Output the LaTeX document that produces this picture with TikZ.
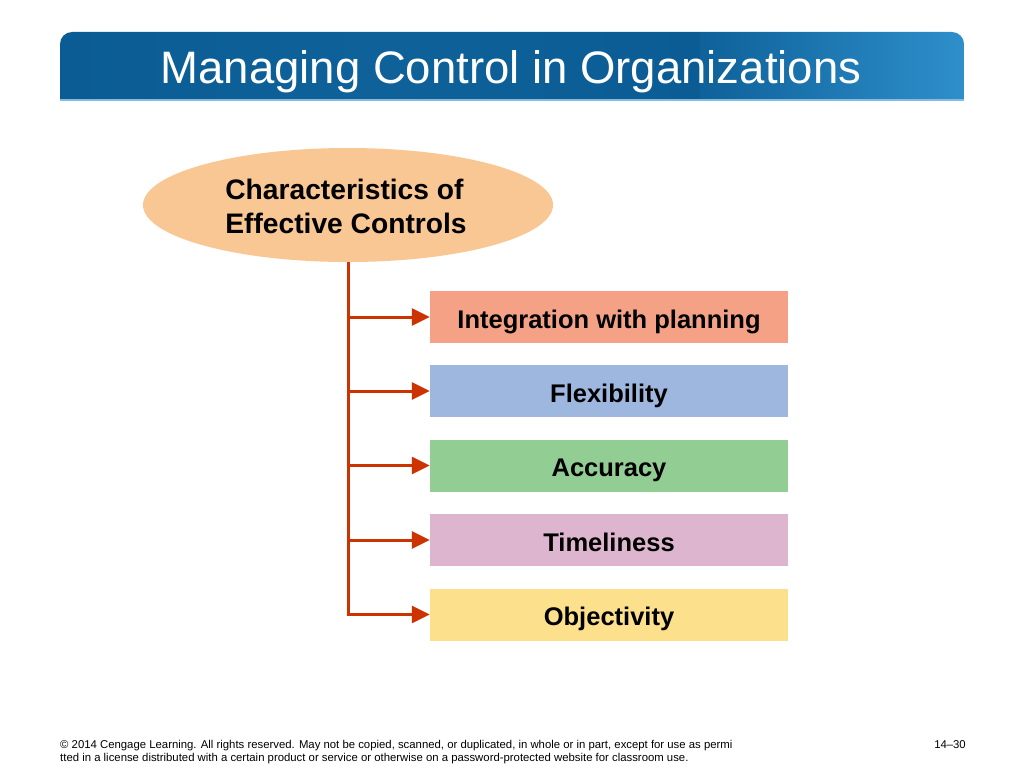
\documentclass[tikz,border=0pt]{standalone}
\usepackage{fontspec}
\setmainfont{Liberation Sans}
\usetikzlibrary{arrows.meta,shapes.geometric}
\definecolor{barL}{HTML}{0B5C94}
\definecolor{barR}{HTML}{2E8FCB}
\definecolor{ellfill}{HTML}{F8C794}
\definecolor{conn}{HTML}{CC3300}
\definecolor{cA}{HTML}{F4A186}
\definecolor{cB}{HTML}{9DB7DF}
\definecolor{cC}{HTML}{92CD93}
\definecolor{cD}{HTML}{DDB5CF}
\definecolor{cE}{HTML}{FDE08C}
\tikzset{
  itembox/.style={draw=none, minimum width=358pt, minimum height=52pt, inner sep=0pt,
    text height=22pt, text depth=0pt,
    font=\fontsize{25.5}{30}\selectfont\bfseries, text=black},
  link/.style={draw=conn, line width=3pt, -{Triangle[length=18pt,width=17pt]}},
}
\begin{document}
\begin{tikzpicture}[x=1pt,y=-1pt]
\useasboundingbox (0,0) rectangle (1024,768);
\fill[white] (0,0) rectangle (1024,768);
% title bar
\begin{scope}
\clip[rounded corners=12pt] (60,32) rectangle (964,140);
\shade[left color=barL, right color=barL, middle color=barL!90!barR] (60,32) rectangle (700,100);
\shade[left color=barL!90!barR, right color=barR] (700,32) rectangle (964,100);
\end{scope}
\fill[barR!60!white] (60,98.5) rectangle (964,100.5);
\node[anchor=center, text=white, font=\fontsize{45.5}{52}\selectfont] (title) at (511,72) {Managing Control in Organizations};
% ellipse
\node[ellipse, fill=ellfill, minimum width=410pt, minimum height=114pt, inner sep=0pt] (root) at (348,205) {};
\node[align=left, font=\fontsize{28.2}{34}\selectfont\bfseries, anchor=center] (roottext) at (346,206) {Characteristics of\\ Effective Controls};
% boxes
\node[itembox, fill=cA] (b1) at (609,317) {Integration with planning};
\node[itembox, fill=cB] (b2) at (609,391) {Flexibility};
\node[itembox, fill=cC] (b3) at (609,465.5) {Accuracy};
\node[itembox, fill=cD] (b4) at (609,540) {Timeliness};
\node[itembox, fill=cE] (b5) at (609,614.5) {Objectivity};
% connectors
\coordinate (top) at (348,262);
\draw[draw=conn, line width=3pt] (top) -- (348,612.5);
\foreach \b in {b1,b2,b3,b4} {
  \draw[link] (348,0 |- \b.west) -- (\b.west);
}
\draw[link] (top) -- (348,0 |- b5.west) -- (b5.west);
% footer
\node[anchor=north west, align=left, font=\fontsize{11.35}{13}\selectfont, inner sep=0pt] (foot) at (60,740) {© 2014 Cengage Learning. All rights reserved. May not be copied, scanned, or duplicated, in whole or in part, except for use as permi\\tted in a license distributed with a certain product or service or otherwise on a password-protected website for classroom use.};
\node[anchor=north east, font=\fontsize{11.35}{13}\selectfont, inner sep=0pt] (pg) at (966,740) {14–30};
\end{tikzpicture}
\end{document}
